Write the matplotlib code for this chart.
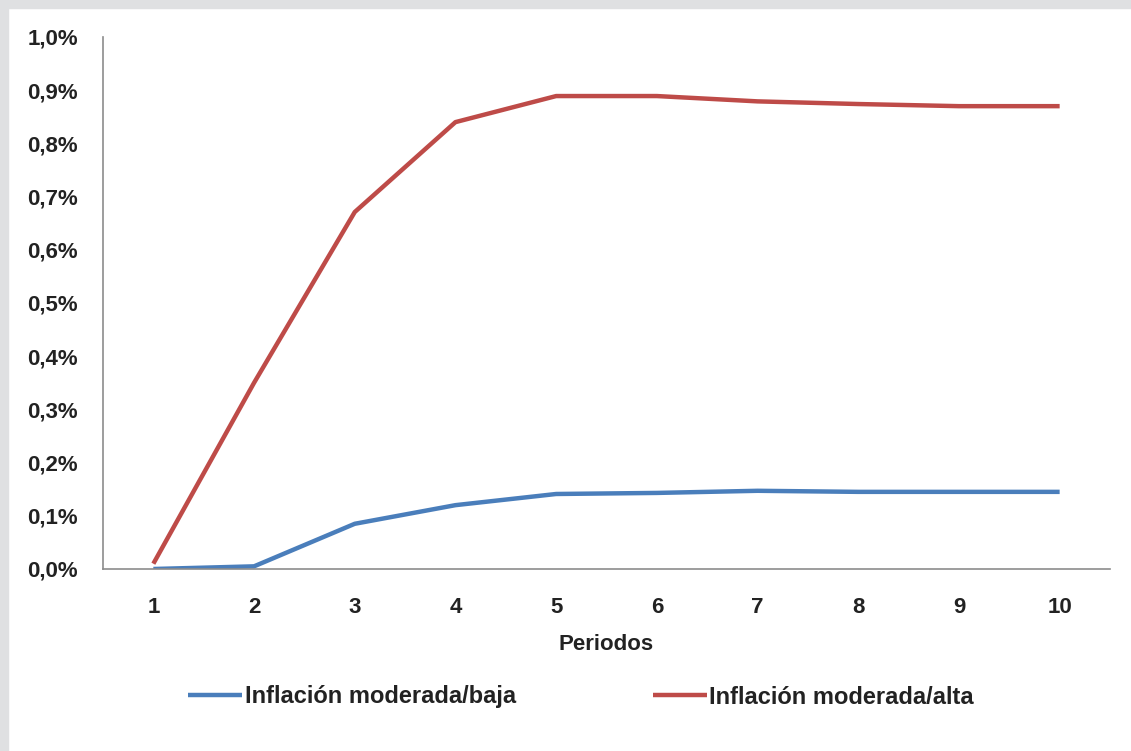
import matplotlib
matplotlib.use('Agg')
import matplotlib.pyplot as plt
from matplotlib.ticker import FuncFormatter
from matplotlib.patches import Rectangle

# data (values in %)
periods = [1, 2, 3, 4, 5, 6, 7, 8, 9, 10]
baja = [0.000, 0.005, 0.085, 0.120, 0.141, 0.143, 0.147, 0.145, 0.145, 0.145]
alta = [0.010, 0.350, 0.671, 0.840, 0.889, 0.889, 0.879, 0.874, 0.870, 0.870]
labels = ['Inflación moderada/baja', 'Inflación moderada/alta']

plt.rcParams['font.family'] = ['Liberation Sans', 'DejaVu Sans']
plt.rcParams['font.weight'] = 'bold'

fig = plt.figure(figsize=(11.31, 7.51), dpi=100)
# grey frame around the chart area (top and left)
fig.patches.append(Rectangle((0, 1 - 8 / 751), 1, 8 / 751, transform=fig.transFigure,
                             color='#dfe0e2', zorder=0))
fig.patches.append(Rectangle((0, 0), 8 / 1131, 1, transform=fig.transFigure,
                             color='#dfe0e2', zorder=0))

ax = fig.add_axes([103 / 1131, 1 - 569 / 751, 1007 / 1131, 532 / 751])
ax.plot(periods, baja, color='#4a7ebb', lw=3.2, label=labels[0], solid_capstyle='butt')
ax.plot(periods, alta, color='#be4b48', lw=3.2, label=labels[1], solid_capstyle='butt')

ax.set_xlim(0.5, 10.5)
ax.set_ylim(0, 1.0)
ax.set_xticks(periods)
ax.set_yticks([i / 10 for i in range(11)])
ax.yaxis.set_major_formatter(FuncFormatter(lambda v, p: f'{v:.1f}%'.replace('.', ',')))

for s in ['top', 'right']:
    ax.spines[s].set_visible(False)
for s in ['left', 'bottom']:
    ax.spines[s].set_color('#8c8c8c')
    ax.spines[s].set_linewidth(1.2)
ax.tick_params(length=0, labelsize=16, colors='#222222')
ax.tick_params(axis='y', pad=18)
ax.tick_params(axis='x', pad=20)
ax.set_xlabel('Periodos', fontsize=16, fontweight='bold', color='#222222', labelpad=12)

fig.legend(loc='center', bbox_to_anchor=(581 / 1131, 1 - 697 / 751), ncol=2,
           frameon=False, fontsize=17, handlelength=2.3, handletextpad=0.1,
           columnspacing=5.8, labelcolor='#222222')

fig.savefig('out.png', dpi=100)
